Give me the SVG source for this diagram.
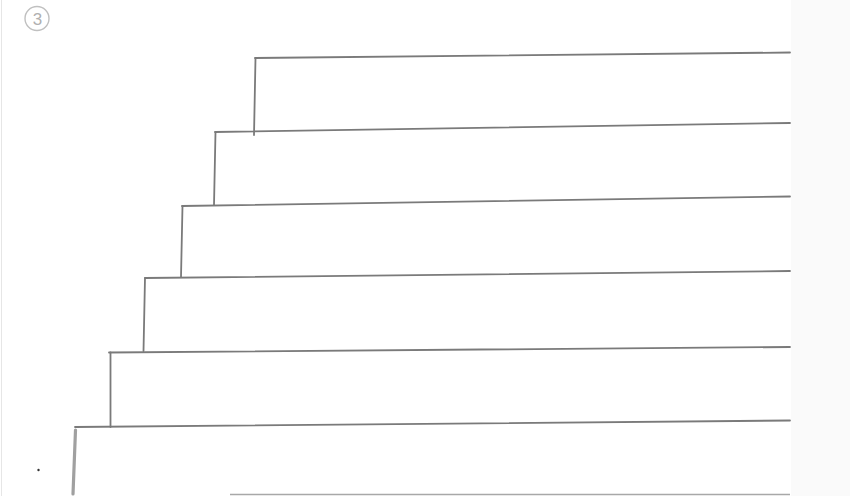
<svg xmlns="http://www.w3.org/2000/svg" width="850" height="496" viewBox="0 0 850 496">
<style>
.ln{stroke:#7a7a7a;stroke-width:1.8;fill:none;stroke-linecap:round}
.lt{stroke:#a8a8a8;stroke-width:1.4;fill:none}
.num{font-family:"Liberation Sans",Arial,sans-serif;font-size:17px;fill:#b0b0b0}
</style>
<rect x="0" y="0" width="850" height="496" fill="#ffffff"/>
<rect x="791" y="0" width="59" height="496" fill="#fafafa"/>
<line x1="1.5" y1="0" x2="1.5" y2="496" stroke="#e6e6e6" stroke-width="1"/>
<g id="label">
<circle cx="37" cy="18.5" r="12" fill="none" stroke="#c0c0c0" stroke-width="1.4"/>
<text class="num" x="37.5" y="24.5" text-anchor="middle">3</text>
</g>
<g id="step1">
<path class="ln" d="M255 58 L790 52.5"/>
<path class="ln" d="M255.5 58 L254 135"/>
</g>
<g id="step2">
<path class="ln" d="M215 132 L790 123"/>
<path class="ln" d="M215.5 132 L214 205"/>
</g>
<g id="step3">
<path class="ln" d="M182 206 L790 196.5"/>
<path class="ln" d="M182.5 206 L181 277"/>
</g>
<g id="step4">
<path class="ln" d="M145 278 L790 271"/>
<path class="ln" d="M145 278 L143.5 351"/>
</g>
<g id="step5">
<path class="ln" d="M109 352.5 L790 347"/>
<path class="ln" d="M110.5 352.5 L110.5 427"/>
</g>
<g id="step6">
<path class="ln" d="M75 427 L790 420.5"/>
<path d="M75.5 430 L73 494" stroke="#a0a0a0" stroke-width="3.2" stroke-linecap="round" fill="none"/>
</g>
<g id="floor">
<path class="lt" d="M230 494.5 L790 494.5"/>
</g>
<circle cx="38.5" cy="470" r="1.2" fill="#333"/>
</svg>
